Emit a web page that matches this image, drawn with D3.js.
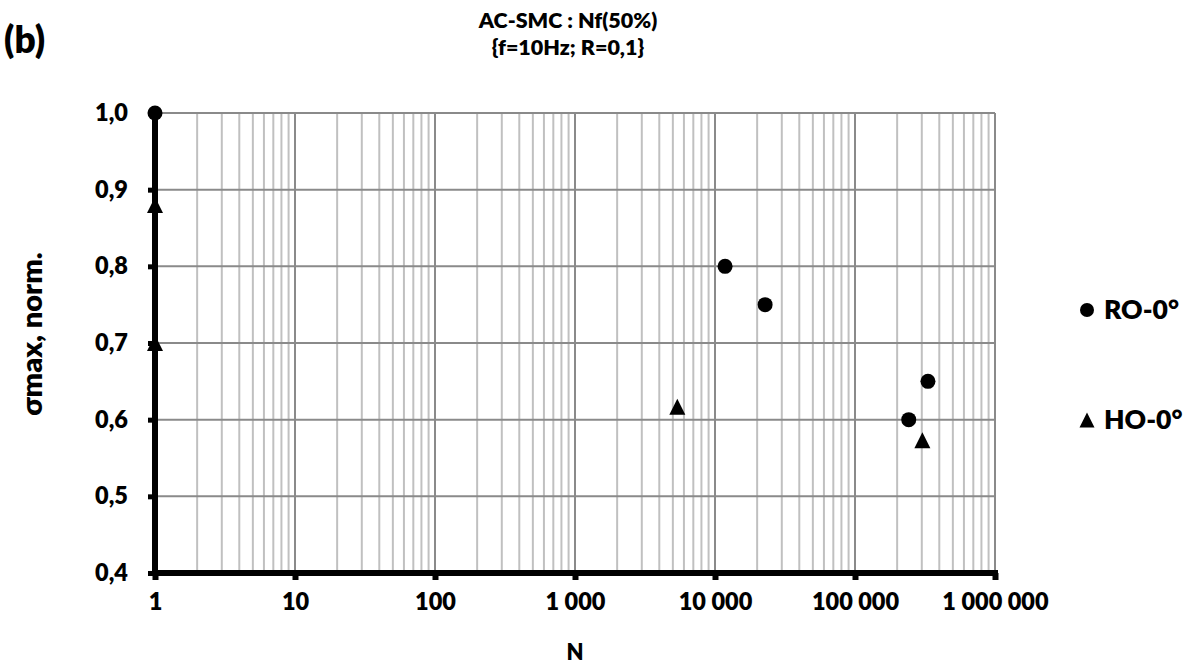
<!DOCTYPE html>
<html>
<head>
<meta charset="utf-8">
<script src="https://cdn.jsdelivr.net/npm/d3@7"></script>
<style>
  html, body { margin: 0; padding: 0; background: #fff; }
  svg { display: block; }
  text { font-family: Lato, "Open Sans", sans-serif; font-weight: 800; fill: #000; }
</style>
</head>
<body>
<svg id="chart" width="1188" height="664"></svg>
<script>
// ---- data ----
const titleLines = ["AC-SMC : Nf(50%)", "{f=10Hz; R=0,1}"];
const panelLabel = "(b)";
const xTitle = "N";
const yTitle = "σmax, norm.";
const seriesNames = ["RO-0°", "HO-0°"];
const RO_N = [1, 11800, 22800, 242000, 332000];
const RO_S = [1.0, 0.80, 0.75, 0.60, 0.65];
const HO_N = [1, 1, 5380, 303000];
const HO_S = [0.88, 0.70, 0.617, 0.573];
const xTicks = [1, 10, 100, 1000, 10000, 100000, 1000000];
const xTickLabels = ["1", "10", "100", "1 000", "10 000", "100 000", "1 000 000"];
const yTicks = [0.4, 0.5, 0.6, 0.7, 0.8, 0.9, 1.0];
const yTickLabels = ["0,4", "0,5", "0,6", "0,7", "0,8", "0,9", "1,0"];

// ---- layout ----
const svg = d3.select("#chart");
svg.append("rect").attr("width", 1188).attr("height", 664).attr("fill", "#fff");
const L = 155, R = 995, T = 113, B = 573;
const x = d3.scaleLog().domain([1, 1e6]).range([L, R]);
const y = d3.scaleLinear().domain([0.4, 1.0]).range([B, T]);

// minor vertical grid
const minor = [];
for (let e = 0; e < 6; e++) for (let k = 2; k <= 9; k++) minor.push(k * Math.pow(10, e));
svg.append("g").selectAll("line").data(minor).join("line")
  .attr("x1", d => x(d)).attr("x2", d => x(d)).attr("y1", T).attr("y2", B)
  .attr("stroke", "#c0c0c0").attr("stroke-width", 2);
// major vertical grid
svg.append("g").selectAll("line").data(xTicks).join("line")
  .attr("x1", d => x(d)).attr("x2", d => x(d)).attr("y1", T).attr("y2", B)
  .attr("stroke", "#8a8a8a").attr("stroke-width", 2);
// horizontal grid
svg.append("g").selectAll("line").data(yTicks).join("line")
  .attr("x1", L).attr("x2", R).attr("y1", d => y(d)).attr("y2", d => y(d))
  .attr("stroke", "#8a8a8a").attr("stroke-width", 2);

const FONT = "Lato, sans-serif";
// axes
const xAxis = d3.axisBottom(x).tickValues(xTicks).tickFormat((d, i) => xTickLabels[i]).tickSize(7).tickPadding(13);
const gx = svg.append("g").attr("transform", `translate(0,${B})`).call(xAxis);
gx.select(".domain").attr("stroke", "#000").attr("stroke-width", 6).attr("d", `M${L - 3},0H${R + 3}`);
gx.selectAll(".tick line").attr("stroke", "#000").attr("stroke-width", 6);
gx.selectAll(".tick text").attr("font-size", 23.5).attr("font-family", FONT).attr("font-weight", 800).attr("fill", "#000");

const yAxis = d3.axisLeft(y).tickValues(yTicks).tickFormat((d, i) => yTickLabels[i]).tickSize(7).tickPadding(20);
const gy = svg.append("g").attr("transform", `translate(${L},0)`).call(yAxis);
gy.select(".domain").attr("stroke", "#000").attr("stroke-width", 6).attr("d", `M0,${T}V${B + 3}`);
gy.selectAll(".tick line").attr("stroke", "#000").attr("stroke-width", 5);
gy.selectAll(".tick text").attr("font-size", 23.5).attr("font-family", FONT).attr("font-weight", 800).attr("fill", "#000");

// markers
const tri = (w, h) => `M0,${-h / 2}L${w / 2},${h / 2}L${-w / 2},${h / 2}Z`;
svg.append("g").selectAll("circle").data(RO_N.map((n, i) => [n, RO_S[i]])).join("circle")
  .attr("cx", d => x(d[0])).attr("cy", d => y(d[1])).attr("r", 7.5).attr("fill", "#000");
svg.append("g").selectAll("path").data(HO_N.map((n, i) => [n, HO_S[i]])).join("path")
  .attr("transform", d => `translate(${x(d[0])},${y(d[1])})`).attr("d", tri(16, 16)).attr("fill", "#000");

// titles
svg.append("text").attr("x", 568).attr("y", 28).attr("text-anchor", "middle").attr("font-size", 21.5).text(titleLines[0]);
svg.append("text").attr("x", 568).attr("y", 55).attr("text-anchor", "middle").attr("font-size", 21.5).text(titleLines[1]);
svg.append("text").attr("x", 4).attr("y", 53).attr("font-size", 37).text(panelLabel);
svg.append("text").attr("x", 575).attr("y", 660).attr("text-anchor", "middle").attr("font-size", 22).text(xTitle);
svg.append("text").attr("transform", "translate(42,334) rotate(-90)").attr("text-anchor", "middle").attr("font-size", 29).text(yTitle);

// legend
const lg = svg.append("g");
lg.append("circle").attr("cx", 1087).attr("cy", 310).attr("r", 7).attr("fill", "#000");
lg.append("text").attr("x", 1104).attr("y", 319).attr("font-size", 26.5).text(seriesNames[0]);
lg.append("path").attr("transform", "translate(1087,420)").attr("d", tri(15, 15)).attr("fill", "#000");
lg.append("text").attr("x", 1104).attr("y", 429).attr("font-size", 26.5).text(seriesNames[1]);
</script>
</body>
</html>
